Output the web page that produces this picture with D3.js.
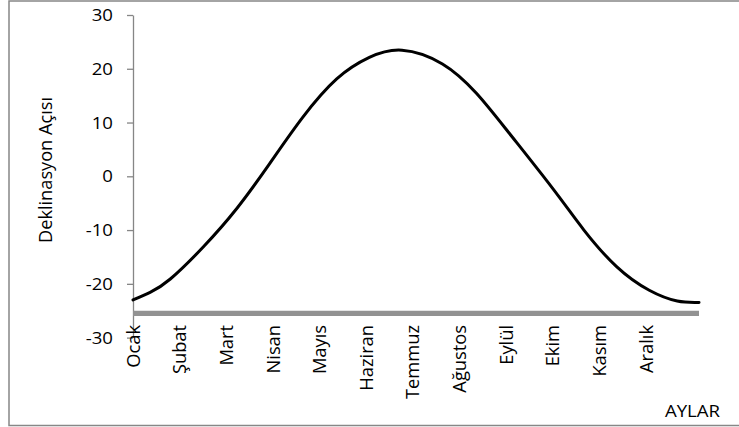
<!DOCTYPE html>
<html lang="tr">
<head>
<meta charset="utf-8">
<script src="https://cdn.jsdelivr.net/npm/d3@7"></script>
<style>
  html, body { margin: 0; padding: 0; background: #fff; }
  svg { display: block; font-family: "Open Sans", "Noto Sans", sans-serif; }
</style>
</head>
<body>
<svg id="chart" width="739" height="427"></svg>
<script>
// Gün numarası (yılın günü) ve o günün deklinasyon açısı (derece)
const gunler = [1, 12, 25, 46, 68, 89, 110, 132, 153, 174, 200, 222, 243, 271, 291, 312, 333, 351, 365];
const deklinasyon = [-23.0, -21.6, -19.1, -13.2, -5.9, 2.4, 10.9, 18.1, 22.1, 23.45, 20.9, 15.4, 8.0, -2.3, -10.0, -16.8, -21.2, -23.2, -23.45];

// Ay etiketleri ve eksen üzerindeki gün konumları
const aylar = ["Ocak", "Şubat", "Mart", "Nisan", "Mayıs", "Haziran", "Temmuz", "Ağustos", "Eylül", "Ekim", "Kasım", "Aralık"];
const ayGunleri = [1, 31, 61, 91, 121, 151, 181, 211, 241, 271, 301, 331];

const yTikler = [-30, -20, -10, 0, 10, 20, 30];
const yAlt = -30, yUst = 30;
const xEkseniKesisim = -25.5;   // yatay eksenin dikey eksenle kesiştiği değer

const svg = d3.select("#chart");

// Dış çerçeve
svg.append("rect")
  .attr("x", 9).attr("y", 1)
  .attr("width", 740).attr("height", 424.5)
  .attr("fill", "none")
  .attr("stroke", "#878787")
  .attr("stroke-width", 1.5);

const x = d3.scaleLinear().domain([1, 365]).range([133, 699]);
const y = d3.scaleLinear().domain([yAlt, yUst]).range([337.6, 15]);

const hx = 1.2;   // yatay yazılar için genişletme oranı

// Dikey eksen
const yAxis = svg.append("g")
  .attr("transform", `translate(${x(1)},0)`)
  .call(d3.axisLeft(y).tickValues(yTikler).tickSize(6).tickSizeOuter(0).tickFormat(d => String(d)));
yAxis.select(".domain").attr("stroke", "#868686").attr("stroke-width", 1.3);
yAxis.selectAll(".tick line").attr("stroke", "#868686").attr("stroke-width", 1.3);
yAxis.selectAll(".tick text")
  .attr("x", -20 / hx)
  .attr("dy", "0.36em")
  .attr("transform", `scale(${hx},1)`)
  .attr("fill", "#000")
  .style("font-size", "15.5px")
  .style("font-family", "'Open Sans', sans-serif");

// Yatay eksen (kalın gri çizgi)
svg.append("line")
  .attr("x1", x(1)).attr("x2", x(365))
  .attr("y1", y(xEkseniKesisim)).attr("y2", y(xEkseniKesisim))
  .attr("stroke", "#929292")
  .attr("stroke-width", 5.2);

// Ay etiketleri
svg.append("g").selectAll("text")
  .data(aylar)
  .join("text")
  .attr("transform", (d, i) => `translate(${x(ayGunleri[i])},325) rotate(-90)`)
  .attr("text-anchor", "end")
  .attr("dy", "0.36em")
  .attr("fill", "#000")
  .style("font-size", "18.3px")
  .text(d => d);

// Deklinasyon eğrisi
const cizgi = d3.line()
  .x((d, i) => x(gunler[i]))
  .y(d => y(d))
  .curve(d3.curveNatural);

svg.append("path")
  .datum(deklinasyon)
  .attr("d", cizgi)
  .attr("fill", "none")
  .attr("stroke", "#000")
  .attr("stroke-width", 3)
  .attr("stroke-linecap", "round");

// Eksen başlıkları
svg.append("text")
  .attr("transform", "translate(45,170) rotate(-90)")
  .attr("text-anchor", "middle")
  .attr("dy", "0.36em")
  .attr("fill", "#000")
  .style("font-size", "18.2px")
  .text("Deklinasyon Açısı");

svg.append("text")
  .attr("transform", `translate(720,417) scale(${hx},1)`)
  .attr("text-anchor", "end")
  .attr("fill", "#000")
  .style("font-size", "15.5px")
  .text("AYLAR");
</script>
</body>
</html>
